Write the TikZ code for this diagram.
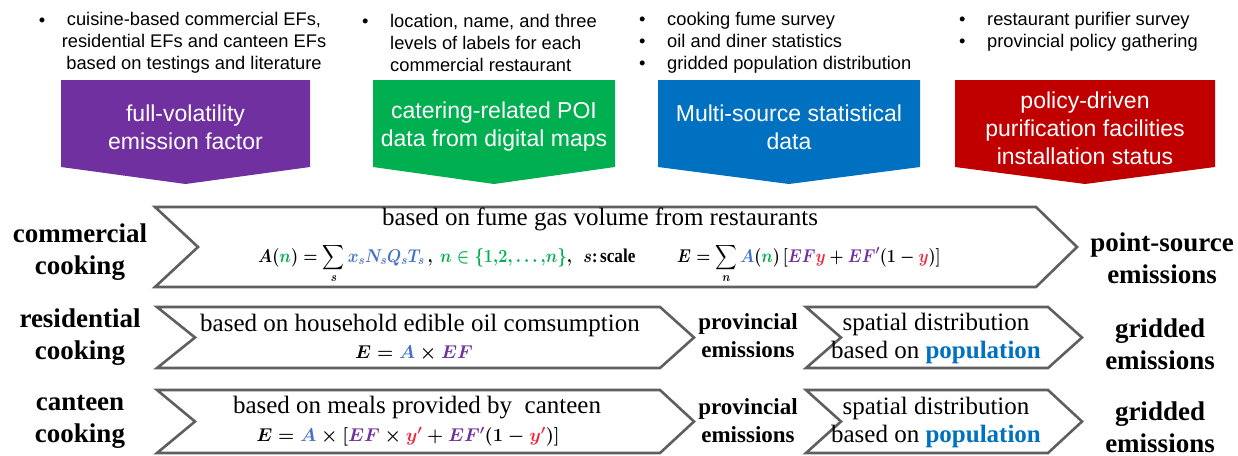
\RequirePackage{fix-cm}
\documentclass[tikz,border=0pt]{standalone}
\usepackage{amsmath}
\usepackage{graphicx}
\usepackage{fontspec}
\setmainfont{Liberation Serif}
\newfontfamily\arialf{Liberation Sans}
\definecolor{cpurple}{HTML}{7030A0}
\definecolor{cgreen}{HTML}{00B050}
\definecolor{cblue}{HTML}{0070C0}
\definecolor{cred}{HTML}{C00000}
\definecolor{mblue}{HTML}{4472C4}
\definecolor{mgreen}{HTML}{00B050}
\definecolor{mpurple}{HTML}{7030A0}
\definecolor{mred}{HTML}{F0283C}
\definecolor{edgegray}{HTML}{5F5F5F}
\newcommand\bul{\makebox[28pt][l]{\textbullet}}
\tikzset{
  bullettext/.style={font=\arialf\fontsize{18.3}{22}\selectfont, inner sep=0pt, align=left},
  boxtext/.style={font=\arialf\fontsize{23}{28}\selectfont, text=white, align=center, inner sep=0pt},
  rowlabel/.style={font=\bfseries\fontsize{27}{32}\selectfont, align=center, inner sep=0pt},
  midlabel/.style={font=\bfseries\fontsize{23}{28}\selectfont, align=center, inner sep=0pt},
  desc/.style={font=\fontsize{25}{28}\selectfont, align=center, inner sep=0pt},
  formula/.style={font=\fontsize{18.5}{22}\selectfont\boldmath, inner sep=0pt},
  chev/.style={draw=edgegray, line width=2.6pt, line join=miter},
}
\begin{document}
\begin{tikzpicture}[x=1pt,y=-1pt]
\fill[white] (0,0) rectangle (1238,455);
\useasboundingbox (0,0) rectangle (1238,455);

% top data boxes
\fill[cpurple] (61,80) -- (310,80) -- (310,167) -- (185.5,184) -- (61,167) -- cycle;
\fill[cgreen] (373,80) -- (615,80) -- (615,167) -- (494,184) -- (373,167) -- cycle;
\fill[cblue] (658,80) -- (920,80) -- (920,167) -- (789,184) -- (658,167) -- cycle;
\fill[cred] (955,80) -- (1215,80) -- (1215,167) -- (1085,184) -- (955,167) -- cycle;

\node[boxtext] (tp) at (185.5,127) {full-volatility\\emission factor};
\node[boxtext] (tg) at (494,127) {catering-related POI\\data from digital maps};
\node[boxtext] (tb) at (789,127) {Multi-source statistical\\data};
\node[boxtext] (tr) at (1085,128) {policy-driven\\purification facilities\\installation status};

% bullets
\node[bullettext] (bp) at (42,22) {\textbullet};
\node[bullettext, align=center] (lp) at (194,43) {cuisine-based commercial EFs,\\residential EFs and canteen EFs\\based on testings and literature};
\node[bullettext, anchor=west] (lg) at (362,43) {\bul location, name, and three\\\hspace*{28pt}levels of labels for each\\\hspace*{28pt}commercial restaurant};
\node[bullettext, anchor=west] (lb) at (639,43) {\bul cooking fume survey\\\bul oil and diner statistics\\\bul gridded population distribution};
\node[bullettext, anchor=west] (lr) at (959,32) {\bul restaurant purifier survey\\\bul provincial policy gathering};

% chevrons
\draw[chev] (155,207) -- (1036,207) -- (1077,247) -- (1036,287) -- (155,287) -- (198,247) -- cycle;
\draw[chev] (157,307) -- (660,307) -- (694,337.5) -- (660,368) -- (157,368) -- (195,337.5) -- cycle;
\draw[chev] (806,307) -- (1048,307) -- (1082,337.5) -- (1048,368) -- (806,368) -- (841,337.5) -- cycle;
\draw[chev] (157,390) -- (660,390) -- (694,421.5) -- (660,453) -- (157,453) -- (195,421.5) -- cycle;
\draw[chev] (806,390) -- (1048,390) -- (1082,421.5) -- (1048,453) -- (806,453) -- (841,421.5) -- cycle;

% row labels
\node[rowlabel] (lc) at (80,252) {commercial\\cooking};
\node[rowlabel] (lres) at (80,337) {residential\\cooking};
\node[rowlabel] (lcan) at (80,422) {canteen\\cooking};
\node[rowlabel] (ops) at (1162,258) {point-source\\emissions};
\node[rowlabel] (og1) at (1160,344) {gridded\\emissions};
\node[rowlabel] (og2) at (1160,427) {gridded\\emissions};
\node[midlabel] (pe1) at (748,336) {provincial\\emissions};
\node[midlabel] (pe2) at (748,421) {provincial\\emissions};

% row 1 content
\node[desc] (d1) at (600,219) {based on fume gas volume from restaurants};
\node[formula, anchor=base west] (f1) at (258,262) {\scalebox{0.88}[1]{$A({\color{mgreen}n}) = \displaystyle\sum_{s} {\color{mblue}x_sN_sQ_sT_s}\,,\ {\color{mgreen}n\in\{1{,}2{,}\ldots{,}n\}},\ \ s$\textbf{:\,\fontsize{19.5}{22}\selectfont scale}}};
\node[formula, anchor=base west] (f2) at (677,262) {\scalebox{0.87}[1]{$E = \displaystyle\sum_{n} {\color{mblue}A}({\color{mgreen}n})\,[{\color{mpurple}EF}{\color{mred}y} + {\color{mpurple}EF^{\prime}}(1-{\color{mred}y})]$}};

% row 2 content
\node[desc] (d2) at (420,325) {based on household edible oil comsumption};
\node[formula] (f3) at (414,353) {$E = {\color{mblue}A}\times{\color{mpurple}EF}$};
\node[desc] (s2) at (936,338) {spatial distribution\\based on \textbf{\color{cblue}population}};

% row 3 content
\node[desc] (d3) at (417,408) {based on meals provided by\ \ canteen};
\node[formula] (f4) at (408,437) {$E = {\color{mblue}A}\times[{\color{mpurple}EF}\times{\color{mred}y^{\prime}} + {\color{mpurple}EF^{\prime}}(1-{\color{mred}y^{\prime}})]$};
\node[desc] (s3) at (936,422) {spatial distribution\\based on \textbf{\color{cblue}population}};
\end{tikzpicture}
\end{document}
